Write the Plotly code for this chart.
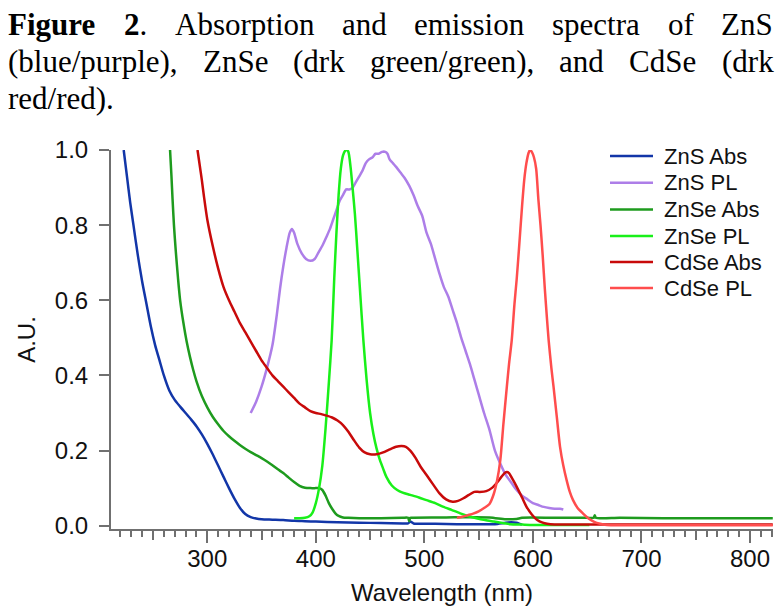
import plotly.graph_objects as go

# ---------------- data ----------------
zns_abs_wl = [223, 226, 229, 232, 236, 240, 244, 248, 252, 256, 260, 265, 270, 275, 280, 285, 290, 295,
              300, 305, 310, 315, 320, 325, 330, 335, 340, 345, 350, 360, 370, 380, 390, 400, 420, 440,
              460, 480, 485, 487, 490, 510, 530, 550, 565, 575, 580, 585, 588, 590]
zns_abs = [1.0, 0.93, 0.86, 0.80, 0.72, 0.65, 0.59, 0.53, 0.48, 0.44, 0.40, 0.36, 0.335, 0.317, 0.30, 0.283,
           0.265, 0.243, 0.218, 0.19, 0.16, 0.13, 0.10, 0.072, 0.048, 0.031, 0.023, 0.019, 0.017, 0.016,
           0.015, 0.013, 0.012, 0.011, 0.009, 0.008, 0.007, 0.006, 0.006, 0.011, 0.006, 0.005, 0.004,
           0.004, 0.004, 0.008, 0.009, 0.008, 0.005, 0.003]

zns_pl_wl = [340, 345, 350, 355, 360, 364, 367, 370, 373, 376, 378, 380, 383, 387, 391, 395, 399, 402, 406,
             410, 413, 416, 419, 422, 425, 428, 431, 434, 437, 440, 443, 446, 449, 452, 455, 458, 461, 464,
             466, 468, 471, 474, 478, 482, 486, 490, 494, 498, 502, 506, 510, 514, 518, 522, 526, 530, 534,
             538, 542, 546, 550, 555, 560, 565, 570, 575, 580, 585, 590, 595, 600, 605, 610, 615, 620, 625, 628]
zns_pl = [0.30, 0.33, 0.37, 0.42, 0.48, 0.56, 0.63, 0.69, 0.74, 0.78, 0.79, 0.78, 0.75, 0.725, 0.71, 0.705,
          0.71, 0.725, 0.745, 0.77, 0.79, 0.815, 0.84, 0.865, 0.88, 0.895, 0.895, 0.90, 0.915, 0.93, 0.945,
          0.965, 0.975, 0.98, 0.99, 0.99, 0.995, 0.995, 0.99, 0.975, 0.965, 0.955, 0.94, 0.925, 0.905, 0.88,
          0.85, 0.825, 0.78, 0.75, 0.71, 0.67, 0.635, 0.61, 0.575, 0.54, 0.50, 0.465, 0.43, 0.39, 0.35, 0.30,
          0.255, 0.20, 0.165, 0.135, 0.115, 0.095, 0.08, 0.07, 0.06, 0.055, 0.05, 0.047, 0.045, 0.045, 0.043]

znse_abs_wl = [265.7, 267, 268, 269.3, 271, 273, 275, 278, 281, 284, 287, 290, 295, 300, 305, 310, 315, 320,
               325, 330, 335, 340, 345, 350, 355, 360, 365, 370, 375, 380, 385, 390, 395, 400, 403, 406, 409,
               412, 415, 418, 421, 425, 430, 440, 460, 480, 485, 486, 487, 490, 520, 560, 575, 585, 590,
               620, 650, 656, 657, 658, 680, 720, 760, 800, 821]
znse_abs = [1.0, 0.93, 0.87, 0.80, 0.73, 0.66, 0.60, 0.54, 0.49, 0.45, 0.415, 0.385, 0.345, 0.315, 0.29,
            0.27, 0.252, 0.238, 0.226, 0.215, 0.205, 0.196, 0.188, 0.18, 0.171, 0.161, 0.15, 0.14, 0.128, 0.116,
            0.106, 0.101, 0.10, 0.10, 0.10, 0.095, 0.08, 0.06, 0.045, 0.033, 0.026, 0.022, 0.021, 0.02, 0.02,
            0.021, 0.021, 0.012, 0.021, 0.021, 0.022, 0.022, 0.017, 0.018, 0.021, 0.021, 0.021, 0.021, 0.028,
            0.021, 0.021, 0.02, 0.02, 0.02, 0.02]

znse_pl_wl = [380, 385, 390, 394, 397, 400, 403, 406, 409, 412, 414.6, 417, 419, 421, 423, 425, 427, 428.5,
              430, 432, 434, 436, 438, 440.7, 443.8, 446.8, 450, 453, 456, 459, 462, 465, 470, 475, 480,
              487, 495, 502, 510, 517, 525, 533, 540, 548, 556, 564, 572, 579, 590, 600, 620, 640, 652]
znse_pl = [0.02, 0.02, 0.021, 0.025, 0.035, 0.06, 0.10, 0.16, 0.26, 0.38, 0.494, 0.66, 0.78, 0.88, 0.95,
           0.985, 0.998, 1.0, 0.995, 0.955, 0.895, 0.83, 0.745, 0.627, 0.494, 0.388, 0.30, 0.245, 0.205,
           0.175, 0.152, 0.13, 0.107, 0.095, 0.088, 0.082, 0.075, 0.068, 0.06, 0.051, 0.042, 0.033, 0.026,
           0.02, 0.015, 0.011, 0.007, 0.004, 0.003, 0.002, 0.002, 0.002, 0.002]

cdse_abs_wl = [291, 293, 295, 297, 300, 305, 310, 315, 320, 325, 330, 335, 340, 345, 350, 355, 360,
               365, 370, 375, 380, 385, 390, 395, 400, 405, 410, 415, 420, 425, 430, 435, 440, 445, 450,
               456, 462, 468, 474, 479, 483, 487, 492, 497, 502, 508, 514, 520, 526, 531, 536, 541, 546,
               551, 557, 562, 567, 571, 574, 576, 578, 581, 585, 590, 594, 599, 604, 609, 613, 620, 630,
               650, 700, 750, 800, 821]
cdse_abs = [1.0, 0.96, 0.92, 0.875, 0.815, 0.745, 0.685, 0.635, 0.60, 0.57, 0.54, 0.515, 0.49, 0.465, 0.44,
            0.42, 0.40, 0.385, 0.37, 0.355, 0.34, 0.325, 0.315, 0.305, 0.30, 0.297, 0.293, 0.288, 0.28,
            0.268, 0.25, 0.228, 0.208, 0.195, 0.19, 0.19, 0.195, 0.203, 0.21, 0.212, 0.21, 0.20, 0.18,
            0.155, 0.135, 0.11, 0.086, 0.07, 0.064, 0.066, 0.073, 0.082, 0.09, 0.09, 0.092, 0.10, 0.115,
            0.13, 0.14, 0.143, 0.14, 0.125, 0.104, 0.075, 0.051, 0.03, 0.015, 0.008, 0.005, 0.003, 0.003,
            0.003, 0.003, 0.003, 0.003, 0.003]

cdse_pl_wl = [530, 535, 540, 545, 550, 555, 560, 564, 567, 570, 572.8, 576, 578, 580.5, 583, 585, 587, 590,
              592, 594, 596, 597.3, 599, 601, 603, 605, 607, 609, 611, 613, 614.5, 617, 619, 622, 625, 628,
              631, 634, 637, 641, 646, 651, 656, 662, 668, 680, 700, 750, 800, 821]
cdse_pl = [0.021, 0.024, 0.028, 0.032, 0.038, 0.047, 0.058, 0.085, 0.12, 0.175, 0.27, 0.37, 0.43, 0.494,
           0.59, 0.654, 0.73, 0.85, 0.92, 0.965, 0.992, 1.0, 0.995, 0.98, 0.95, 0.87, 0.80, 0.72, 0.63, 0.55,
           0.494, 0.42, 0.37, 0.29, 0.21, 0.16, 0.122, 0.09, 0.068, 0.048, 0.033, 0.02, 0.011, 0.005, 0.002,
           0.001, 0.001, 0.001, 0.001, 0.001]

series_names = ["ZnS Abs", "ZnS PL", "ZnSe Abs", "ZnSe PL", "CdSe Abs", "CdSe PL"]
series_colors = ["#1236a8", "#ad7ee8", "#1e9b1e", "#19f019", "#c80a0a", "#ff4d4d"]
series_x = [zns_abs_wl, zns_pl_wl, znse_abs_wl, znse_pl_wl, cdse_abs_wl, cdse_pl_wl]
series_y = [zns_abs, zns_pl, znse_abs, znse_pl, cdse_abs, cdse_pl]

x_major = [300, 400, 500, 600, 700, 800]
x_mid = [250, 350, 450, 550, 650, 750]
y_ticks = [0.0, 0.2, 0.4, 0.6, 0.8, 1.0]

caption_lines = [
    ["<b>Figure</b>", "<b>2</b>.", "Absorption", "and", "emission", "spectra", "of", "ZnS"],
    ["(blue/purple),", "ZnSe", "(drk", "green/green),", "and", "CdSe", "(drk"],
    ["red/red)."],
]

# ---------------- layout geometry ----------------
W, H = 777, 607
ML, MR, MT, MB = 111, 4, 150, 78
PW, PH = W - ML - MR, H - MT - MB


def px(xp):
    return (xp - ML) / PW


def py(yp):
    return (H - MB - yp) / PH


fig = go.Figure()
for xs, ys, name, col in zip(series_x, series_y, series_names, series_colors):
    fig.add_trace(go.Scatter(x=xs, y=ys, mode="lines", name=name,
                             line=dict(color=col, width=2.5, shape="spline", smoothing=0.7),
                             showlegend=False))

# invisible trace to carry the mid-length ticks on an overlay axis
fig.add_trace(go.Scatter(x=[x_mid[0]], y=[0], xaxis="x2", mode="markers",
                         marker=dict(opacity=0), showlegend=False, hoverinfo="skip"))

axis_col = "#707070"
fig.update_layout(
    width=W, height=H,
    margin=dict(l=ML, r=MR, t=MT, b=MB),
    paper_bgcolor="white", plot_bgcolor="white",
    font=dict(family="Liberation Sans, Arial, sans-serif", color="#111111"),
    xaxis=dict(range=[211.3, 821.2], tickmode="array", tickvals=x_major,
               ticks="outside", ticklen=12, tickwidth=1.5, tickcolor=axis_col,
               showline=True, linecolor=axis_col, linewidth=2, showgrid=False, zeroline=False,
               tickfont=dict(size=24), ticklabelstandoff=-5,
               minor=dict(tickmode="linear", tick0=200, dtick=10, ticks="outside", ticklen=6,
                          tickwidth=1.5, tickcolor=axis_col, showgrid=False),
               title=dict(text="Wavelength (nm)", font=dict(size=24), standoff=13)),
    xaxis2=dict(range=[211.3, 821.2], overlaying="x", anchor="y", side="bottom",
                tickmode="array", tickvals=x_mid, ticks="outside", ticklen=10, tickwidth=1.5,
                tickcolor=axis_col, showticklabels=False, showline=False, showgrid=False,
                zeroline=False),
    yaxis=dict(range=[-0.0088, 1.0], tickmode="array", tickvals=y_ticks, tickformat=".1f",
               ticks="outside", ticklen=10, tickwidth=1.5, tickcolor=axis_col,
               showline=True, linecolor=axis_col, linewidth=2, showgrid=False, zeroline=False,
               tickfont=dict(size=24), ticklabelstandoff=6,
               title=dict(text="A.U.", font=dict(size=24), standoff=12)),
    showlegend=False,
)

# ---------------- legend drawn by hand (sample lines + labels) ----------------
legend_rows = [156, 182.7, 209.5, 236, 262, 288]
for ry, name, col in zip(legend_rows, series_names, series_colors):
    fig.add_shape(type="line", xref="paper", yref="paper",
                  x0=px(610), x1=px(653), y0=py(ry), y1=py(ry),
                  line=dict(color=col, width=2.5))
    fig.add_annotation(text=name, xref="paper", yref="paper", x=px(663), y=py(ry),
                       xanchor="left", yanchor="middle", showarrow=False,
                       font=dict(size=22, color="#111111"), borderpad=0)

# ---------------- caption (justified, word by word) ----------------
caption_left = [
    [7, 122.5, 173.5, 340.7, 413.2, 551.1, 666.6, 720.1],
    [7, 201.7, 292.2, 368.9, 558.4, 628.3, 720.6],
    [7],
]
caption_mid_y = [24.5, 61.2, 98.8]
for words, lefts, cy in zip(caption_lines, caption_left, caption_mid_y):
    for wtxt, lx in zip(words, lefts):
        fig.add_annotation(text=wtxt, xref="paper", yref="paper", x=px(lx), y=py(cy),
                           xanchor="left", yanchor="middle", showarrow=False, borderpad=0,
                           font=dict(family="Liberation Serif, Times New Roman, serif",
                                     size=31, color="#000000"))

fig.write_html("out.html")
